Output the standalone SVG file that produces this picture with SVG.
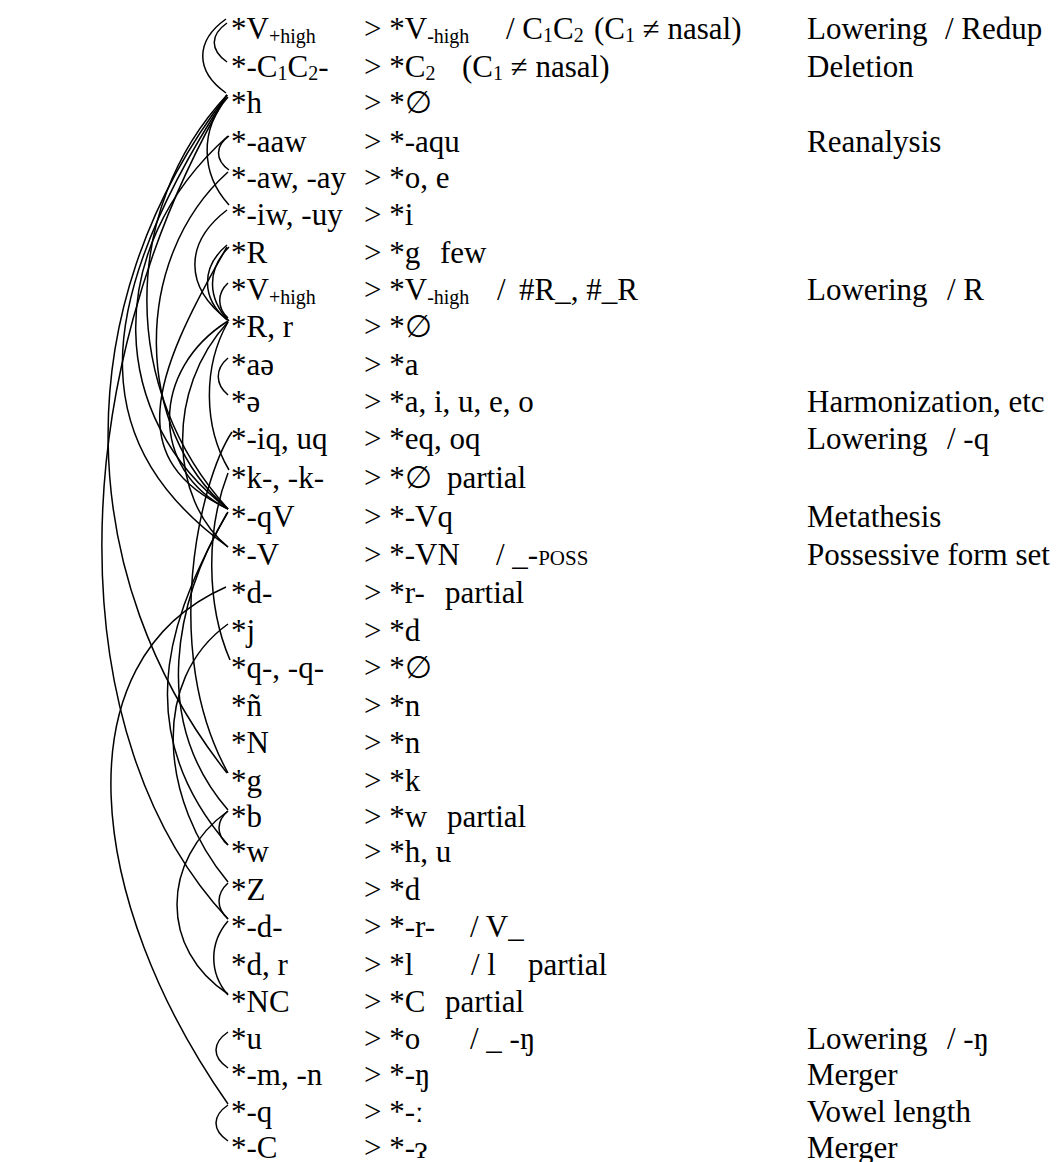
<svg xmlns="http://www.w3.org/2000/svg" width="1060" height="1162" viewBox="0 0 1060 1162">
  <style>
    .t { font-family: "Liberation Serif", "DejaVu Serif", serif; font-size: 31px; fill: #000; }
    .s { font-size: 20px; }
    .sc { font-size: 21px; }
    .c { fill: none; stroke: #000; stroke-width: 1.5; }
  </style>
  <rect width="1060" height="1162" fill="#fff"/>

  <!-- ordering links between the rule rows -->
  <g id="connectors">
    <!-- short brackets between neighbouring rows -->
    <path class="c" d="M227 23 C210 35, 210 50, 227 62"/>
    <path class="c" d="M226 19 C195 41, 195 71, 226 93"/>
    <path class="c" d="M228 97 C200 129, 200 173, 229 205"/>
    <path class="c" d="M229 136 C215 146, 215 160, 229 170"/>
    <path class="c" d="M227 210 C184 243, 184 287, 228 320"/>
    <path class="c" d="M227 245 C201 267, 201 298, 227 320"/>
    <path class="c" d="M229 247 C207 269, 207 298, 229 321"/>
    <path class="c" d="M228 283 C217 293, 217 308, 228 318"/>
    <path class="c" d="M228 358 C215 369, 215 384, 228 395"/>
    <path class="c" d="M228 322 C203 366, 203 426, 229 470"/>
    <path class="c" d="M228 473 C206 530, 206 604, 230 660"/>
    <path class="c" d="M228 811 C216 821, 216 835, 228 845"/>
    <path class="c" d="M228 883 C216 894, 216 908, 228 919"/>
    <path class="c" d="M228 921 C209 943, 209 973, 228 995"/>
    <path class="c" d="M228 1032 C212 1043, 212 1057, 228 1068"/>
    <path class="c" d="M228 1105 C212 1116, 212 1130, 228 1141"/>
    <!-- long links -->
    <path class="c" d="M227 95 C60 380, 60 740, 228 919"/>
    <path class="c" d="M227 95 C62 310, 75 580, 227 773"/>
    <path class="c" d="M227 95 C80 320, 95 450, 228 547"/>
    <path class="c" d="M227 95 C120 210, 120 390, 228 509"/>
    <path class="c" d="M228 136 C100 250, 110 420, 228 509"/>
    <path class="c" d="M228 172 C130 260, 135 430, 228 509"/>
    <path class="c" d="M227 247 C150 380, 125 460, 228 509"/>
    <path class="c" d="M228 321 C150 370, 150 470, 228 509"/>
    <path class="c" d="M228 322 C165 390, 170 500, 228 547"/>
    <path class="c" d="M232 432 C200 480, 160 650, 228 773"/>
    <path class="c" d="M228 512 C175 600, 150 720, 228 810"/>
    <path class="c" d="M227 513 C180 600, 120 720, 228 845"/>
    <path class="c" d="M226 587 C60 660, 85 900, 228 1104"/>
    <path class="c" d="M228 624 C150 680, 160 800, 228 882"/>
    <path class="c" d="M228 811 C160 860, 160 950, 228 994"/>
  </g>

  <!-- left column: source forms -->
  <g id="src" class="t">
    <text x="231" y="39">*V<tspan class="s" dy="4">+high</tspan></text>
    <text x="231" y="77">*-C<tspan class="s" dy="3">1</tspan><tspan dy="-3">C</tspan><tspan class="s" dy="3">2</tspan><tspan dy="-3">-</tspan></text>
    <text x="231" y="113">*h</text>
    <text x="231" y="152">*-aaw</text>
    <text x="231" y="188">*-aw, -ay</text>
    <text x="231" y="225">*-iw, -uy</text>
    <text x="231" y="263">*R</text>
    <text x="231" y="300">*V<tspan class="s" dy="4">+high</tspan></text>
    <text x="231" y="337">*R, r</text>
    <text x="231" y="375">*aə</text>
    <text x="231" y="412">*ə</text>
    <text x="231" y="449">*-iq, uq</text>
    <text x="231" y="488">*k-, -k-</text>
    <text x="231" y="527">*-qV</text>
    <text x="231" y="565">*-V</text>
    <text x="231" y="603">*d-</text>
    <text x="231" y="641">*j</text>
    <text x="231" y="678">*q-, -q-</text>
    <text x="231" y="716">*ñ</text>
    <text x="231" y="753">*N</text>
    <text x="231" y="791">*g</text>
    <text x="231" y="827">*b</text>
    <text x="231" y="862">*w</text>
    <text x="231" y="900">*Z</text>
    <text x="231" y="937">*-d-</text>
    <text x="231" y="975">*d, r</text>
    <text x="231" y="1012">*NC</text>
    <text x="231" y="1049">*u</text>
    <text x="231" y="1085">*-m, -n</text>
    <text x="231" y="1122">*-q</text>
    <text x="231" y="1158">*-C</text>
  </g>

  <!-- middle column: outcomes and conditions -->
  <g id="out" class="t">
    <text x="364" y="39">&gt; *V<tspan class="s" dy="4">-high</tspan></text>
    <text x="506" y="39">/ C<tspan class="s" dy="3">1</tspan><tspan dy="-3">C</tspan><tspan class="s" dy="3">2</tspan></text>
    <text x="594" y="39">(C<tspan class="s" dy="3">1</tspan><tspan dy="-3"> ≠ nasal)</tspan></text>
    <text x="364" y="77">&gt; *C<tspan class="s" dy="3">2</tspan></text>
    <text x="462" y="77">(C<tspan class="s" dy="3">1</tspan><tspan dy="-3"> ≠ nasal)</tspan></text>
    <text x="364" y="113">&gt; *∅</text>
    <text x="364" y="152">&gt; *-aqu</text>
    <text x="364" y="188">&gt; *o, e</text>
    <text x="364" y="225">&gt; *i</text>
    <text x="364" y="263">&gt; *g</text>
    <text x="440" y="263">few</text>
    <text x="364" y="300">&gt; *V<tspan class="s" dy="4">-high</tspan></text>
    <text x="497" y="300">/</text>
    <text x="519" y="300">#R_, #_R</text>
    <text x="364" y="337">&gt; *∅</text>
    <text x="364" y="375">&gt; *a</text>
    <text x="364" y="412">&gt; *a, i, u, e, o</text>
    <text x="364" y="449">&gt; *eq, oq</text>
    <text x="364" y="488">&gt; *∅</text>
    <text x="447" y="488">partial</text>
    <text x="364" y="527">&gt; *-Vq</text>
    <text x="364" y="565">&gt; *-VN</text>
    <text x="496" y="565">/ _-<tspan class="sc">POSS</tspan></text>
    <text x="364" y="603">&gt; *r-</text>
    <text x="445" y="603">partial</text>
    <text x="364" y="641">&gt; *d</text>
    <text x="364" y="678">&gt; *∅</text>
    <text x="364" y="716">&gt; *n</text>
    <text x="364" y="753">&gt; *n</text>
    <text x="364" y="791">&gt; *k</text>
    <text x="364" y="827">&gt; *w</text>
    <text x="447" y="827">partial</text>
    <text x="364" y="862">&gt; *h, u</text>
    <text x="364" y="900">&gt; *d</text>
    <text x="364" y="937">&gt; *-r-</text>
    <text x="470" y="937">/ V_</text>
    <text x="364" y="975">&gt; *l</text>
    <text x="471" y="975">/ l</text>
    <text x="528" y="975">partial</text>
    <text x="364" y="1012">&gt; *C</text>
    <text x="445" y="1012">partial</text>
    <text x="364" y="1049">&gt; *o</text>
    <text x="470" y="1049">/ _ -ŋ</text>
    <text x="364" y="1085">&gt; *-ŋ</text>
    <text x="364" y="1122">&gt; *-ː</text>
    <text x="364" y="1158">&gt; *-ɂ</text>
  </g>

  <!-- right column: process names -->
  <g id="proc" class="t">
    <text x="807" y="39">Lowering</text>
    <text x="945" y="39">/ Redup</text>
    <text x="807" y="77">Deletion</text>
    <text x="807" y="152">Reanalysis</text>
    <text x="807" y="300">Lowering</text>
    <text x="947" y="300">/ R</text>
    <text x="807" y="412">Harmonization, etc</text>
    <text x="807" y="449">Lowering</text>
    <text x="947" y="449">/ -q</text>
    <text x="807" y="527">Metathesis</text>
    <text x="807" y="565">Possessive form set</text>
    <text x="807" y="1049">Lowering</text>
    <text x="947" y="1049">/ -ŋ</text>
    <text x="807" y="1085">Merger</text>
    <text x="807" y="1122">Vowel length</text>
    <text x="807" y="1158">Merger</text>
  </g>
</svg>
